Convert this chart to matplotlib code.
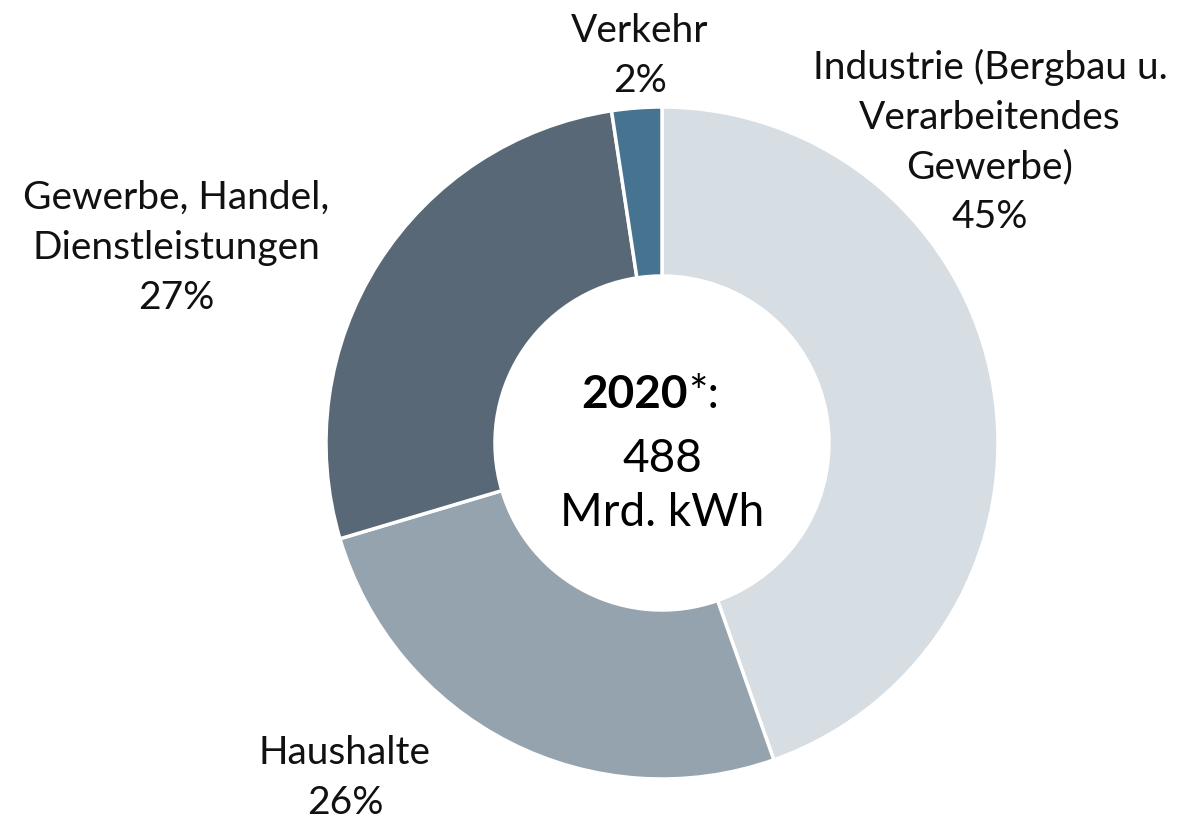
import matplotlib.pyplot as plt

plt.rcParams['font.family'] = ['Lato', 'DejaVu Sans']

sectors = ['Industrie (Bergbau u.\nVerarbeitendes\nGewerbe)', 'Haushalte',
           'Gewerbe, Handel,\nDienstleistungen', 'Verkehr']
shares = [44.6, 25.8, 27.2, 2.4]
colors = ['#d6dde3', '#95a3ae', '#586876', '#457390']
year = '2020'
total = '488\nMrd. kWh'

# label anchor points in pixel space (x, y from top)
label_pos = [(990, 142), (345, 778), (176, 248), (640, 56)]

fig = plt.figure(figsize=(12, 8.23), dpi=100)
ax = fig.add_axes([0, 0, 1, 1])
H = 823

ax.pie(shares, colors=colors, startangle=90, counterclock=False,
       center=(662, H - 443), radius=336,
       wedgeprops=dict(width=169, edgecolor='white', linewidth=2.5))
ax.set_xlim(0, 1200)
ax.set_ylim(0, H)
ax.set_aspect('equal')
ax.axis('off')

for name, val, (x, y) in zip(sectors, shares, label_pos):
    ax.text(x, H - y, f'{name}\n{round(val)}%', ha='center', va='center',
            fontsize=28, linespacing=1.48, color='#111111')

ax.text(688, H - 395, year, ha='right', va='center', fontsize=33,
        fontweight='bold', color='black')
ax.text(688, H - 395, '*:', ha='left', va='center', fontsize=33, color='black')
ax.text(662, H - 486, total, ha='center', va='center', fontsize=33,
        linespacing=1.36, color='black')

fig.savefig('out.png', dpi=100)
